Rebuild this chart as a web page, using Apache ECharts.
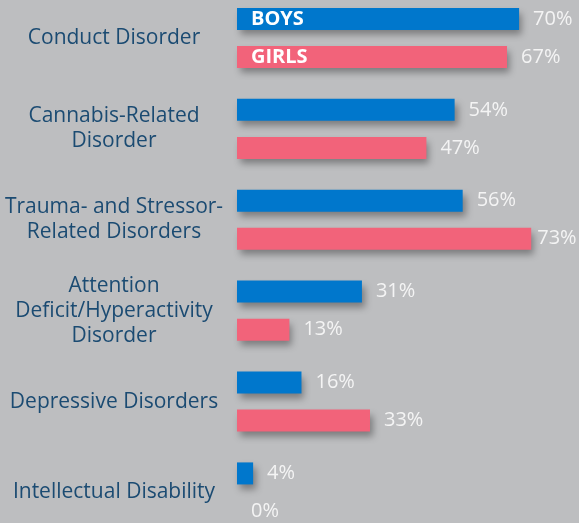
<!DOCTYPE html>
<html><head><meta charset="utf-8">
<script src="https://cdn.jsdelivr.net/npm/echarts@6/dist/echarts.min.js"></script>
<style>html,body{margin:0;padding:0;background:#bdbec0;}#c{width:579px;height:523px;}</style>
</head><body><div id="c"></div>
<script>
var categories = ['Conduct Disorder', 'Cannabis-Related\nDisorder', 'Trauma- and Stressor-\nRelated Disorders', 'Attention\nDeficit/Hyperactivity\nDisorder', 'Depressive Disorders', 'Intellectual Disability'];
var boys = [70, 54, 56, 31, 16, 4];
var girls = [67, 47, 73, 13, 33, 0];
var seriesNames = ['BOYS', 'GIRLS'];

var FONT = 'Open Sans';
var chart = echarts.init(document.getElementById('c'));
var barW = 22, gap = '73%';
var shadow = {shadowBlur: 7, shadowOffsetX: 3, shadowOffsetY: 5, shadowColor: 'rgba(0,0,0,0.35)'};
function valSeries(name, data, color, axis) {
  return {
    name: name, type: 'bar', yAxisIndex: axis, barWidth: barW, barGap: gap,
    data: data.map(function(v){
      // labels that would run past the right edge sit closer to their bar
      return v >= 72 ? {value: v, label: {distance: 6}} : v;
    }),
    itemStyle: Object.assign({color: color}, shadow),
    label: {show: true, position: 'right', distance: 14, color: '#f4f4f4', fontSize: 20, fontFamily: FONT,
      formatter: function(p){ return p.value + '%'; }}
  };
}
function nameSeries(name, data, axis) {
  return {
    name: name + '_label', type: 'bar', yAxisIndex: axis, barWidth: barW, barGap: gap, silent: true,
    data: data.map(function(v, i){ return {value: v, label: {show: i === 0}}; }),
    itemStyle: {color: 'transparent'},
    label: {position: 'insideLeft', distance: 14, color: '#ffffff', fontSize: 20, fontWeight: 'bold', fontFamily: FONT,
      padding: [3, 0, 0, 0],
      formatter: function(){ return name; }}
  };
}
var yAxisBase = {type: 'category', data: categories, inverse: true, axisLine: {show: false}, axisTick: {show: false}};
chart.setOption({
  backgroundColor: '#bdbec0',
  animation: false,
  grid: {left: 237, top: -7.5, height: 545.4, width: 403, outerBoundsMode: 'none', containLabel: false},
  xAxis: {type: 'value', min: 0, max: 100, show: false},
  yAxis: [
    Object.assign({}, yAxisBase, {axisLabel: {color: '#1b4b72', fontSize: 21, fontFamily: FONT, align: 'center', margin: 123, lineHeight: 25, padding: [4, 0, 0, 0]}}),
    Object.assign({}, yAxisBase, {show: false})
  ],
  series: [
    valSeries(seriesNames[0], boys, '#0077cc', 0),
    valSeries(seriesNames[1], girls, '#f2637a', 0),
    nameSeries(seriesNames[0], boys, 1),
    nameSeries(seriesNames[1], girls, 1)
  ]
});
</script></body></html>
